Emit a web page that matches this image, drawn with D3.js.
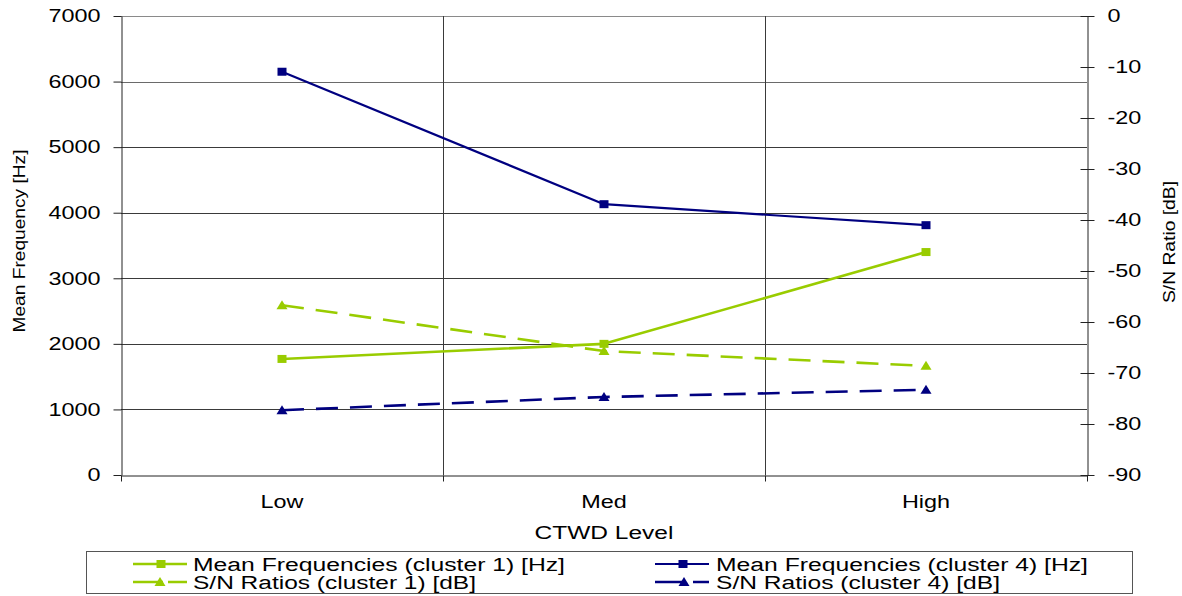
<!DOCTYPE html>
<html>
<head>
<meta charset="utf-8">
<script src="https://cdn.jsdelivr.net/npm/d3@7"></script>
<style>
  html, body { margin: 0; padding: 0; background: #fff; }
  svg { display: block; font-family: "Liberation Sans", Arial, sans-serif; }
</style>
</head>
<body>
<svg id="chart" width="1182" height="596"></svg>
<script>
// CTWD levels on the category axis
const categories = ["Low", "Med", "High"];

// Mean frequencies [Hz] (left axis)
const meanFreqCluster1 = [1770, 2000, 3400];
const meanFreqCluster4 = [6150, 4130, 3810];

// S/N ratios [dB] (right axis)
const snrCluster1 = [-56.7, -65.7, -68.6];
const snrCluster4 = [-77.3, -74.7, -73.3];

// Tick values
const leftTicks = [0, 1000, 2000, 3000, 4000, 5000, 6000, 7000];
const rightTicks = [-90, -80, -70, -60, -50, -40, -30, -20, -10, 0];

const green = "#99cc00";
const navy = "#000080";

const svg = d3.select("#chart");
const plot = { left: 121, right: 1087, top: 16, bottom: 475 };

const x = d3.scaleBand().domain(categories).range([plot.left, plot.right]).padding(0);
const yL = d3.scaleLinear().domain([0, 7000]).range([plot.bottom, plot.top]);
const yR = d3.scaleLinear().domain([-90, 0]).range([plot.bottom, plot.top]);

// widen glyphs horizontally, Excel-style rendering
function stretch(sel, f) {
  sel.each(function () {
    const w = this.getComputedTextLength();
    d3.select(this).attr("textLength", w * f).attr("lengthAdjust", "spacingAndGlyphs");
  });
}

// gridlines
const grid = svg.append("g").attr("stroke-width", 1).attr("shape-rendering", "crispEdges");
grid.selectAll("line.h").data(leftTicks.filter(d => d > 0)).join("line")
  .attr("x1", plot.left).attr("x2", plot.right)
  .attr("y1", d => Math.round(yL(d)) + 0.5).attr("y2", d => Math.round(yL(d)) + 0.5)
  .attr("stroke", d => d === 7000 ? "#8a8a8a" : (d === 6000 ? "#6a6a6a" : "#3a3a3a"));
grid.selectAll("line.v").data(categories.slice(1)).join("line")
  .attr("x1", d => Math.round(x(d)) + 0.5).attr("x2", d => Math.round(x(d)) + 0.5)
  .attr("y1", plot.top).attr("y2", plot.bottom).attr("stroke", "#3a3a3a");

// left axis
const gL = svg.append("g").attr("transform", `translate(${plot.left + 0.5},0)`)
  .call(d3.axisLeft(yL).tickValues(leftTicks).tickFormat(d3.format("d")).tickSize(8).tickPadding(13).tickSizeOuter(0));
gL.selectAll("path.domain").attr("stroke", "#222");
gL.selectAll(".tick line").attr("stroke", "#222");
gL.selectAll("text").attr("font-size", 18).attr("font-family", "Liberation Sans, Arial, sans-serif").attr("fill", "#000");
stretch(gL.selectAll("text"), 1.3);

// right axis (ticks cross the axis line)
const gR = svg.append("g").attr("transform", `translate(${plot.right + 0.5},0)`)
  .call(d3.axisRight(yR).tickValues(rightTicks).tickSize(7).tickPadding(13).tickSizeOuter(0));
gR.selectAll("path.domain").attr("stroke", "#222");
gR.selectAll(".tick line").attr("x1", -7).attr("stroke", "#222");
gR.selectAll("text").attr("font-size", 18).attr("font-family", "Liberation Sans, Arial, sans-serif").attr("fill", "#000")
  .text(d => d < 0 ? "-" + Math.abs(d) : d);
stretch(gR.selectAll("text"), 1.3);

// bottom axis: labels centred in bands, ticks on band boundaries
const gB = svg.append("g").attr("transform", `translate(0,${plot.bottom + 0.5})`)
  .call(d3.axisBottom(x).tickSize(0).tickPadding(20));
gB.selectAll("path.domain").attr("stroke", "#222");
gB.selectAll("text").attr("font-size", 18).attr("font-family", "Liberation Sans, Arial, sans-serif").attr("fill", "#000");
stretch(gB.selectAll("text"), 1.3);
const boundaries = categories.map(c => x(c)).concat([x.range()[1]]);
gB.selectAll("line.bt").data(boundaries).join("line")
  .attr("x1", d => Math.round(d) + 0.5).attr("x2", d => Math.round(d) + 0.5)
  .attr("y1", 0).attr("y2", 6).attr("stroke", "#222");

// axis titles
svg.append("text").attr("transform", `translate(25,241) rotate(-90)`)
  .attr("text-anchor", "middle").attr("font-size", 17).attr("textLength", 183).attr("lengthAdjust", "spacingAndGlyphs")
  .text("Mean Frequency [Hz]");
svg.append("text").attr("transform", `translate(1175,242) rotate(-90)`)
  .attr("text-anchor", "middle").attr("font-size", 17).attr("textLength", 122).attr("lengthAdjust", "spacingAndGlyphs")
  .text("S/N Ratio [dB]");
const xt = svg.append("text").attr("x", (plot.left + plot.right) / 2).attr("y", 539)
  .attr("text-anchor", "middle").attr("font-size", 18).text("CTWD Level");
stretch(xt, 1.36);

// series
const series = [
  { name: "Mean Frequencies (cluster 1) [Hz]", values: meanFreqCluster1, y: yL, color: green, dash: null, marker: "square", width: 2.6 },
  { name: "Mean Frequencies (cluster 4) [Hz]", values: meanFreqCluster4, y: yL, color: navy, dash: null, marker: "square", width: 2.2 },
  { name: "S/N Ratios (cluster 1) [dB]", values: snrCluster1, y: yR, color: green, dash: "22,12", marker: "triangle", width: 2.6 },
  { name: "S/N Ratios (cluster 4) [dB]", values: snrCluster4, y: yR, color: navy, dash: "22,12", marker: "triangle", width: 2.6 }
];

const cx = c => x(c) + x.bandwidth() / 2;

function drawMarker(g, type, px, py, color) {
  if (type === "square") {
    g.append("rect").attr("x", px - 4.5).attr("y", py - 4).attr("width", 9).attr("height", 8).attr("fill", color);
  } else {
    g.append("path").attr("d", `M${px - 5.5},${py + 4}L${px},${py - 5}L${px + 5.5},${py + 4}Z`).attr("fill", color);
  }
}

const drawOrder = [2, 3, 0, 1];
drawOrder.forEach(i => {
  const s = series[i];
  const line = d3.line().x((d, j) => cx(categories[j])).y(d => s.y(d));
  const g = svg.append("g");
  g.append("path").datum(s.values).attr("d", line)
    .attr("fill", "none").attr("stroke", s.color).attr("stroke-width", s.width)
    .attr("stroke-dasharray", s.dash).attr("stroke-linejoin", "round");
  s.values.forEach((v, j) => drawMarker(g, s.marker, cx(categories[j]), s.y(v), s.color));
});

// legend
svg.append("rect").attr("x", 86.5).attr("y", 551.5).attr("width", 1046).attr("height", 42)
  .attr("fill", "#fff").attr("stroke", "#555").attr("stroke-width", 1);
const legendPos = [
  { x0: 133, x1: 187, tx: 193, y: 564, len: 372, dash: null, mk: 161 },
  { x0: 655, x1: 709, tx: 716, y: 564, len: 372, dash: null, mk: 683 },
  { x0: 133, x1: 187, tx: 193, y: 582, len: 283, dash: "30,5,25", mk: 160 },
  { x0: 655, x1: 709, tx: 716, y: 582, len: 284, dash: "31,7,20", mk: 684 }
];
series.forEach((s, i) => {
  const p = legendPos[i];
  const g = svg.append("g");
  g.append("line").attr("x1", p.x0).attr("x2", p.x1).attr("y1", p.y).attr("y2", p.y)
    .attr("stroke", s.color).attr("stroke-width", s.width)
    .attr("stroke-dasharray", p.dash);
  drawMarker(g, s.marker, p.mk, p.y, s.color);
  g.append("text").attr("x", p.tx).attr("y", p.y + 6.5).attr("font-size", 18)
    .attr("textLength", p.len).attr("lengthAdjust", "spacingAndGlyphs").text(s.name);
});
</script>
</body>
</html>
